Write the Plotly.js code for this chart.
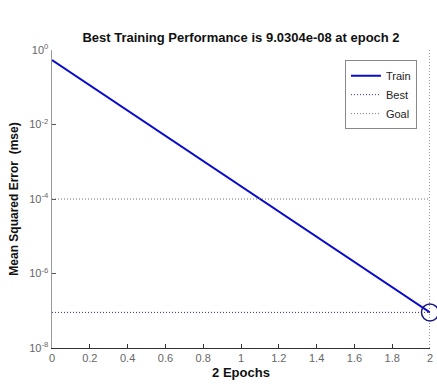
<!DOCTYPE html>
<html>
<head>
<meta charset="utf-8">
<script src="https://cdn.plot.ly/plotly-3.0.1.min.js"></script>
<style>html,body{margin:0;padding:0;background:#fff;}#chart{width:437px;height:389px;}</style>
</head>
<body>
<div id="chart"></div>
<script>
const epochs = [0, 1, 2];
const trainPerf = [0.54, 2.21e-4, 9.0304e-8];
const bestEpoch = 2;
const bestPerf = 9.0304e-8;
const goal = 1e-4;
const yTickVals = [1e-8, 1e-6, 1e-4, 1e-2, 1];
const yTickText = ['10<sup>-8</sup>', '10<sup>-6</sup>', '10<sup>-4</sup>', '10<sup>-2</sup>', '10<sup>0</sup>'];
const xTickVals = [0, 0.2, 0.4, 0.6, 0.8, 1, 1.2, 1.4, 1.6, 1.8, 2];
const xTickText = ['0', '0.2', '0.4', '0.6', '0.8', '1', '1.2', '1.4', '1.6', '1.8', '2'];
const yMin = 1e-8, yMax = 1;

const traces = [
  {
    x: epochs, y: trainPerf, mode: 'lines', name: 'Train',
    line: {color: '#0a0acc', width: 2}
  },
  {
    x: [epochs[0], bestEpoch, null, bestEpoch, bestEpoch],
    y: [bestPerf, bestPerf, null, yMin, yMax],
    mode: 'lines', name: 'Best',
    line: {color: '#2a2a8a', width: 1, dash: '1px,2px'}
  },
  {
    x: [epochs[0], epochs[epochs.length - 1]], y: [goal, goal],
    mode: 'lines', name: 'Goal',
    line: {color: '#777777', width: 1, dash: '1px,2px'}
  },
  {
    x: [bestEpoch], y: [bestPerf], mode: 'markers', showlegend: false,
    cliponaxis: false,
    marker: {symbol: 'circle-open', size: 17, color: '#1a1a80', line: {width: 1.5, color: '#1a1a80'}}
  }
];

const layout = {
  width: 437, height: 389,
  margin: {l: 52, r: 7, t: 50, b: 41},
  paper_bgcolor: '#ffffff', plot_bgcolor: '#ffffff',
  font: {family: 'Liberation Sans, Arial, sans-serif', size: 11, color: '#555'},
  title: {
    text: '<b>Best Training Performance is 9.0304e-08 at epoch 2</b>',
    font: {size: 13, color: '#111', family: 'Liberation Sans, Arial, sans-serif'},
    xref: 'paper', x: 0.5, xanchor: 'center', yref: 'container', y: 0.905, yanchor: 'middle'
  },
  xaxis: {
    range: [0, 2], tickvals: xTickVals, ticktext: xTickText,
    ticks: 'inside', ticklen: 4, tickcolor: '#333', tickwidth: 1,
    showline: true, linecolor: '#333', linewidth: 1, mirror: false,
    showgrid: false, zeroline: false,
    tickfont: {size: 11, color: '#666'},
    title: {text: '<b>2 Epochs</b>', font: {size: 13, color: '#111'}, standoff: 4}
  },
  yaxis: {
    type: 'log', range: [Math.log10(yMin), Math.log10(yMax)],
    tickvals: yTickVals, ticktext: yTickText,
    ticks: 'inside', ticklen: 4, tickcolor: '#555', tickwidth: 1,
    showline: true, linecolor: '#999', linewidth: 1.5, mirror: false,
    showgrid: false, zeroline: false,
    tickfont: {size: 11, color: '#666'},
    title: {text: '<b>Mean Squared Error  (mse)</b>', font: {size: 12, color: '#111'}, standoff: 8}
  },
  legend: {
    x: 0.775, y: 0.966, xanchor: 'left', yanchor: 'top',
    bgcolor: '#ffffff', bordercolor: '#888', borderwidth: 1,
    font: {size: 11, color: '#222'},
    itemwidth: 30, tracegroupgap: 0
  },
  showlegend: true
};

Plotly.newPlot('chart', traces, layout, {displayModeBar: false, staticPlot: true});
</script>
</body>
</html>
